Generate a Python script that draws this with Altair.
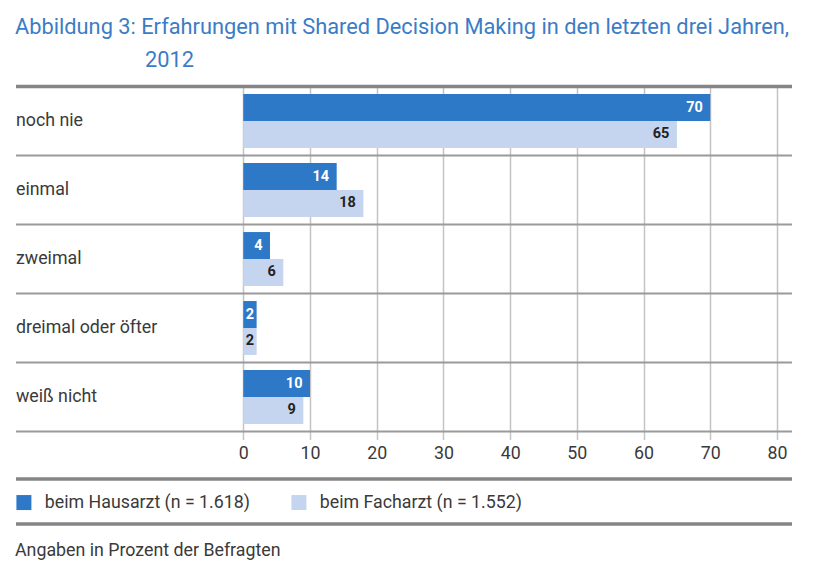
import altair as alt
import pandas as pd

categories = ["noch nie", "einmal", "zweimal", "dreimal oder öfter", "weiß nicht"]
series = ["beim Hausarzt (n = 1.618)", "beim Facharzt (n = 1.552)"]
hausarzt = [70, 14, 4, 2, 10]
facharzt = [65, 18, 6, 2, 9]
x_ticks = [0, 10, 20, 30, 40, 50, 60, 70, 80]
title_line1 = "Abbildung 3: Erfahrungen mit Shared Decision Making in den letzten drei Jahren,"
title_line2 = "2012"
footnote = "Angaben in Prozent der Befragten"

rows = []
for c, h, f in zip(categories, hausarzt, facharzt):
    rows.append({"cat": c, "series": series[0], "value": h})
    rows.append({"cat": c, "series": series[1], "value": f})
df = pd.DataFrame(rows)

FONT = "Roboto, Liberation Sans, sans-serif"
W, H = 776, 345
DARK = "#2e78c8"
LIGHT = "#c5d5f0"
TITLE_BLUE = "#3b7cc6"
LINE_GRAY = "#858585"
SEP_GRAY = "#9a9a9a"
GRID_GRAY = "#c4c4c4"
TEXT = "#3a3a3a"
BODY = 17.8

xscale = alt.Scale(domain=[-34.07, 82.25], nice=False, zero=False)
yscale = alt.Scale(domain=categories, paddingInner=0, paddingOuter=0)
offscale = alt.Scale(domain=series, paddingInner=0, paddingOuter=0.28)

base = alt.Chart(df)

bars = base.mark_bar().encode(
    x=alt.X("value:Q", scale=xscale,
            axis=alt.Axis(values=x_ticks, grid=True, gridColor=GRID_GRAY, gridWidth=1.5,
                          ticks=True, tickSize=8, tickColor=GRID_GRAY, tickWidth=1.5,
                          domain=False, labelFontSize=BODY, labelColor=TEXT, labelFont=FONT,
                          labelPadding=5, title=None)),
    y=alt.Y("cat:N", scale=yscale, axis=None),
    yOffset=alt.YOffset("series:N", scale=offscale),
    color=alt.Color("series:N", scale=alt.Scale(domain=series, range=[DARK, LIGHT]),
                    legend=alt.Legend(title=None, orient="none", legendX=-1, legendY=407,
                                      direction="horizontal", symbolType="square",
                                      symbolSize=225, symbolStrokeWidth=0,
                                      labelFontSize=BODY, labelFont=FONT, labelColor=TEXT,
                                      labelOffset=12, labelLimit=400, columnPadding=40,
                                      padding=0)),
)


def value_labels(name, color):
    sub = base.transform_filter(alt.datum.series == name)
    wide = sub.transform_filter(alt.datum.value >= 3).mark_text(
        align="right", baseline="middle", dx=-7.5, font=FONT, fontWeight="bold",
        fontSize=14.5, color=color
    ).encode(
        x=alt.X("value:Q", scale=xscale),
        y=alt.Y("cat:N", scale=yscale),
        yOffset=alt.YOffset("series:N", scale=offscale),
        text=alt.Text("value:Q"),
    )
    narrow = sub.transform_filter(alt.datum.value < 3).transform_calculate(
        mid="datum.value / 2"
    ).mark_text(
        align="center", baseline="middle", font=FONT, fontWeight="bold",
        fontSize=14.5, color=color
    ).encode(
        x=alt.X("mid:Q", scale=xscale),
        y=alt.Y("cat:N", scale=yscale),
        yOffset=alt.YOffset("series:N", scale=offscale),
        text=alt.Text("value:Q"),
    )
    return [wide, narrow]


cat_df = pd.DataFrame({"cat": categories, "first": [i == 0 for i in range(len(categories))]})
cat_labels = alt.Chart(cat_df).mark_text(
    align="left", baseline="middle", font=FONT, fontSize=BODY, color=TEXT
).encode(
    x=alt.value(0),
    y=alt.Y("cat:N", scale=yscale),
    text="cat:N",
)
separators = alt.Chart(cat_df).mark_rule().encode(
    y=alt.Y("cat:N", scale=yscale, bandPosition=0),
    x=alt.value(0), x2=alt.value(W),
    strokeWidth=alt.condition(alt.datum.first, alt.value(3.5), alt.value(2)),
    color=alt.condition(alt.datum.first, alt.value(LINE_GRAY), alt.value(SEP_GRAY)),
)

one = alt.Data(values=[{"k": 1}])
bottom_line = alt.Chart(one).mark_rule(color=SEP_GRAY, strokeWidth=2).encode(
    y=alt.value(H), x=alt.value(0), x2=alt.value(W))
thick1 = alt.Chart(one).mark_rule(color=LINE_GRAY, strokeWidth=3.5).encode(
    y=alt.value(392.5), x=alt.value(0), x2=alt.value(W))
thick2 = alt.Chart(one).mark_rule(color=LINE_GRAY, strokeWidth=3.5).encode(
    y=alt.value(437.5), x=alt.value(0), x2=alt.value(W))

t1 = alt.Chart(pd.DataFrame({"t": [title_line1]})).mark_text(
    align="left", baseline="alphabetic", font=FONT, fontSize=21.8, color=TITLE_BLUE
).encode(x=alt.value(-1), y=alt.value(-53), text="t:N")
t2 = alt.Chart(pd.DataFrame({"t": [title_line2]})).mark_text(
    align="left", baseline="alphabetic", font=FONT, fontSize=21.8, color=TITLE_BLUE
).encode(x=alt.value(129), y=alt.value(-20), text="t:N")
fn = alt.Chart(pd.DataFrame({"t": [footnote]})).mark_text(
    align="left", baseline="alphabetic", font=FONT, fontSize=BODY, color=TEXT
).encode(x=alt.value(-1), y=alt.value(469), text="t:N")

layers = [bars] + value_labels(series[0], "white") + value_labels(series[1], "#222222") + [
    cat_labels, separators, bottom_line, thick1, thick2, t1, t2, fn]

chart = alt.layer(*layers).properties(
    width=W, height=H,
    padding={"left": 8, "top": 78.5, "right": 25, "bottom": 134.5},
    autosize=alt.AutoSizeParams(type="none"),
).configure_view(stroke=None)

chart.save("out.html", embed_options={"renderer": "svg", "actions": False})
